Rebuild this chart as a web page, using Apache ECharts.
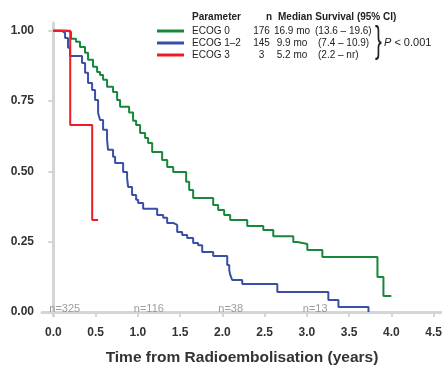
<!DOCTYPE html>
<html>
<head>
<meta charset="utf-8">
<script src="https://cdn.jsdelivr.net/npm/echarts@6/dist/echarts.min.js"></script>
<style>
  html, body { margin: 0; padding: 0; background: #fff; }
  #chart { width: 442px; height: 367px; }
</style>
</head>
<body>
<div id="chart"></div>
<script>
// KM curves (time in years, survival fraction)
var ecog0Time = [0, 0.162, 0.21, 0.269, 0.316, 0.375, 0.411, 0.47, 0.518, 0.553, 0.589, 0.636, 0.707, 0.755, 0.79,
  0.897, 0.944, 0.98, 1.027, 1.086, 1.122, 1.17, 1.288, 1.348, 1.419, 1.572, 1.608, 1.655, 1.892, 1.951, 2.022,
  2.093, 2.295, 2.485, 2.603, 2.84, 2.888, 3.006, 3.184, 3.836, 3.907, 4.0];
var ecog0Surv = [1, 0.996, 0.972, 0.961, 0.943, 0.922, 0.897, 0.872, 0.854, 0.843, 0.826, 0.801, 0.783, 0.754, 0.73,
  0.71, 0.68, 0.665, 0.637, 0.619, 0.601, 0.569, 0.541, 0.516, 0.498, 0.463, 0.434, 0.406, 0.381, 0.363, 0.345,
  0.327, 0.306, 0.292, 0.27, 0.249, 0.242, 0.221, 0.196, 0.125, 0.057, 0.057];

var ecog12Time = [0, 0.103, 0.139, 0.174, 0.198, 0.34, 0.376, 0.411, 0.459, 0.494, 0.53, 0.553, 0.589, 0.636, 0.648,
  0.707, 0.731, 0.826, 0.873, 0.885, 0.932, 0.98, 1.004, 1.063, 1.229, 1.3, 1.347, 1.418, 1.466, 1.525, 1.584,
  1.655, 1.714, 1.762, 1.892, 2.058, 2.082, 2.094, 2.117, 2.236, 2.651, 3.255, 3.374, 3.73];
var ecog12Surv = [1, 0.993, 0.975, 0.94, 0.911, 0.886, 0.851, 0.815, 0.79, 0.754, 0.708, 0.683, 0.648, 0.612, 0.577,
  0.552, 0.53, 0.498, 0.477, 0.445, 0.416, 0.399, 0.388, 0.367, 0.345, 0.335, 0.317, 0.31, 0.285, 0.274, 0.263,
  0.246, 0.238, 0.214, 0.199, 0.167, 0.149, 0.132, 0.114, 0.1, 0.071, 0.043, 0.018, 0];

var ecog3Time = [0, 0.2, 0.46, 0.53];
var ecog3Surv = [1, 0.665, 0.327, 0.327];

var xTicks = [0, 0.5, 1, 1.5, 2, 2.5, 3, 3.5, 4, 4.5];
var yTicks = [0, 0.25, 0.5, 0.75, 1];

var atRiskTimes = [0, 1, 2, 3];
var atRiskN = [325, 116, 38, 13];

var groupNames = ['ECOG 0', 'ECOG 1–2', 'ECOG 3'];
var groupN = [176, 145, 3];
var groupMedian = ['16.9 mo', '9.9 mo', '5.2 mo'];
var groupCI = ['(13.6 – 19.6)', '(7.4 – 10.9)', '(2.2 – nr)'];
var groupColors = ['#17873c', '#3a4fa6', '#ee1c25'];

function pairs(t, s) {
  return t.map(function (v, i) { return [v, s[i]]; });
}

var font = 'Liberation Sans, Arial, sans-serif';
var axisGray = '#d5d5d5';

var myChart = echarts.init(document.getElementById('chart'));

var curves = [pairs(ecog0Time, ecog0Surv), pairs(ecog12Time, ecog12Surv), pairs(ecog3Time, ecog3Surv)];
var series = [];
curves.forEach(function (d, i) {
  series.push({
    name: groupNames[i],
    type: 'line',
    step: 'end',
    data: d,
    showSymbol: false,
    silent: true,
    lineStyle: { color: groupColors[i], width: 2 },
    itemStyle: { color: groupColors[i] }
  });
});

// numbers at risk
series.push({
  type: 'scatter',
  silent: true,
  symbolSize: 0,
  data: atRiskTimes.map(function (t) { return [t, 0.012]; }),
  label: {
    show: true,
    position: 'inside',
    align: 'left',
    verticalAlign: 'middle',
    offset: [-4, 0],
    color: '#858585',
    fontSize: 11,
    fontFamily: font,
    formatter: function (p) { return 'n=' + atRiskN[p.dataIndex]; }
  }
});

var options = {
  animation: false,
  textStyle: { fontFamily: font },
  grid: { left: 42, right: 0, top: 23, bottom: 51, outerBoundsMode: 'none' },
  xAxis: {
    type: 'value',
    min: -0.134,
    max: 4.6,
    splitLine: { show: false },
    axisLine: { show: true, lineStyle: { color: axisGray, width: 3 } },
    axisTick: { show: true, customValues: xTicks, length: 5, lineStyle: { color: axisGray, width: 2 } },
    axisLabel: {
      customValues: xTicks,
      formatter: function (v) { return v.toFixed(1); },
      fontWeight: 'bold', fontSize: 12, color: '#333', margin: 11
    },
    name: 'Time from Radioembolisation (years)',
    nameLocation: 'middle',
    nameGap: 34,
    nameTextStyle: { fontWeight: 'bold', fontSize: 15.5, color: '#333' }
  },
  yAxis: {
    type: 'value',
    min: -0.014,
    max: 1.028,
    splitLine: { show: false },
    axisLine: { show: true, lineStyle: { color: axisGray, width: 3 } },
    axisTick: { show: true, customValues: yTicks, length: 5, lineStyle: { color: axisGray, width: 2 } },
    axisLabel: {
      customValues: yTicks,
      formatter: function (v) { return v.toFixed(2); },
      fontWeight: 'bold', fontSize: 12, color: '#333', margin: 8
    }
  },
  legend: {
    data: groupNames,
    orient: 'vertical',
    left: 157,
    top: 25,
    padding: 0,
    itemWidth: 27,
    itemHeight: 3,
    itemGap: 0,
    icon: 'rect',
    selectedMode: false,
    textStyle: {
      fontFamily: font, fontSize: 10, color: '#222',
      rich: {
        a: { width: 59, fontSize: 10, height: 12, lineHeight: 12, padding: [0, 0, 0, 3] },
        b: { width: 21, align: 'right', fontSize: 10, height: 12, lineHeight: 12 },
        c: { width: 40, align: 'right', fontSize: 10, height: 12, lineHeight: 12 },
        d: { fontSize: 10, height: 12, lineHeight: 12, padding: [0, 0, 0, 3] },
        e: { fontSize: 10, height: 12, lineHeight: 12, padding: [0, 0, 0, 6] }
      }
    },
    formatter: function (name) {
      var i = groupNames.indexOf(name);
      var ciStyle = i === 0 ? 'd' : 'e';
      return '{a|' + name + '}{b|' + groupN[i] + '}{c|' + groupMedian[i] + '}{' + ciStyle + '|' + groupCI[i] + '}';
    }
  },
  graphic: [
    { type: 'text', left: 192, top: 12, style: { text: 'Parameter', font: 'bold 10px ' + font, fill: '#222' } },
    { type: 'text', left: 266, top: 12, style: { text: 'n', font: 'bold 10px ' + font, fill: '#222' } },
    { type: 'text', left: 278, top: 12, style: { text: 'Median Survival (95% CI)', font: 'bold 10px ' + font, fill: '#222' } },
    { type: 'text', left: 375, top: 23, scaleX: 0.55,
      style: { text: '}', font: '37px ' + font, fill: '#222' } },
    { type: 'text', left: 384, top: 37,
      style: {
        text: '{i|P} < 0.001',
        font: '11px ' + font, fill: '#222',
        rich: { i: { fontStyle: 'italic', fontSize: 11, fontFamily: font } }
      } }
  ],
  series: series
};

myChart.setOption(options);
</script>
</body>
</html>
